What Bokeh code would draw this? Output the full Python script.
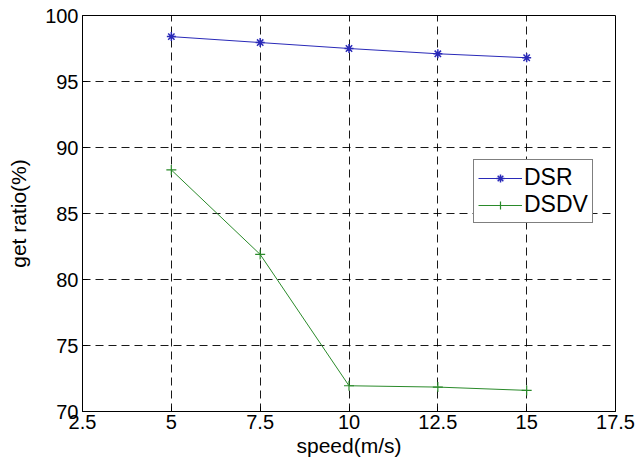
from bokeh.plotting import figure
from bokeh.models import FixedTicker, Legend, LegendItem, Range1d
from bokeh.embed import file_html
from bokeh.resources import INLINE

speed = [5, 7.5, 10, 12.5, 15]
dsr = [98.4, 97.95, 97.5, 97.1, 96.8]
dsdv = [88.3, 81.9, 71.95, 71.85, 71.6]

x_ticks = [2.5, 5, 7.5, 10, 12.5, 15, 17.5]
x_tick_labels = ["2.5", "5", "7.5", "10", "12.5", "15", "17.5"]
y_ticks = [70, 75, 80, 85, 90, 95, 100]
y_tick_labels = ["70", "75", "80", "85", "90", "95", "100"]

FONT = "Liberation Sans"

p = figure(frame_width=533, frame_height=396, output_backend="svg",
           toolbar_location=None, x_range=Range1d(2.5, 17.5), y_range=Range1d(70, 100),
           min_border_left=82, min_border_right=25, min_border_top=15, min_border_bottom=57)
p.background_fill_color = "white"
p.border_fill_color = "white"
p.outline_line_color = "black"
p.outline_line_width = 1

for ax, ticks, labels in ((p.xaxis[0], x_ticks, x_tick_labels), (p.yaxis[0], y_ticks, y_tick_labels)):
    ax.ticker = FixedTicker(ticks=ticks)
    ax.major_label_overrides = {t: l for t, l in zip(ticks, labels)}
    ax.major_label_text_font = FONT
    ax.major_label_text_font_size = "20px"
    ax.major_label_text_color = "black"
    ax.axis_line_color = "black"
    ax.major_tick_line_color = "black"
    ax.major_tick_in = 5
    ax.major_tick_out = 0
    ax.minor_tick_line_color = None
    ax.axis_label_text_font = FONT
    ax.axis_label_text_font_size = "21px"
    ax.axis_label_text_font_style = "normal"
    ax.axis_label_text_color = "black"

p.xaxis.axis_label = "speed(m/s)"
p.yaxis.axis_label = "get ratio(%)"
p.xaxis.major_label_standoff = 3
p.xaxis.axis_label_standoff = 2
p.yaxis.major_label_standoff = 4
p.yaxis.axis_label_standoff = 12

for g in (p.xgrid[0], p.ygrid[0]):
    g.grid_line_color = "black"
    g.grid_line_dash = "8 5"
    g.grid_line_width = 1
    g.grid_line_alpha = 0.9

r1 = p.line(speed, dsr, line_color="#2a2ab8", line_width=1)
m1 = p.scatter(speed, dsr, marker="asterisk", size=9, line_color="#2a2ab8", line_width=1.5)
r2 = p.line(speed, dsdv, line_color="#2a8a2a", line_width=1)
m2 = p.scatter(speed, dsdv, marker="cross", size=10, line_color="#2a8a2a", line_width=1.2)

legend = Legend(items=[LegendItem(label="DSR", renderers=[r1, m1]),
                       LegendItem(label="DSDV", renderers=[r2, m2])],
                location=(391, 188))
legend.label_text_font = FONT
legend.label_text_font_size = "23px"
legend.label_text_color = "black"
legend.label_height = 20
legend.border_line_color = "black"
legend.border_line_width = 1
legend.background_fill_color = "white"
legend.background_fill_alpha = 1
legend.glyph_width = 44
legend.glyph_height = 20
legend.label_standoff = 2
legend.spacing = 0
legend.padding = 4
legend.margin = 0
p.add_layout(legend, "center")

open("out.html", "w").write(file_html(p, INLINE))
